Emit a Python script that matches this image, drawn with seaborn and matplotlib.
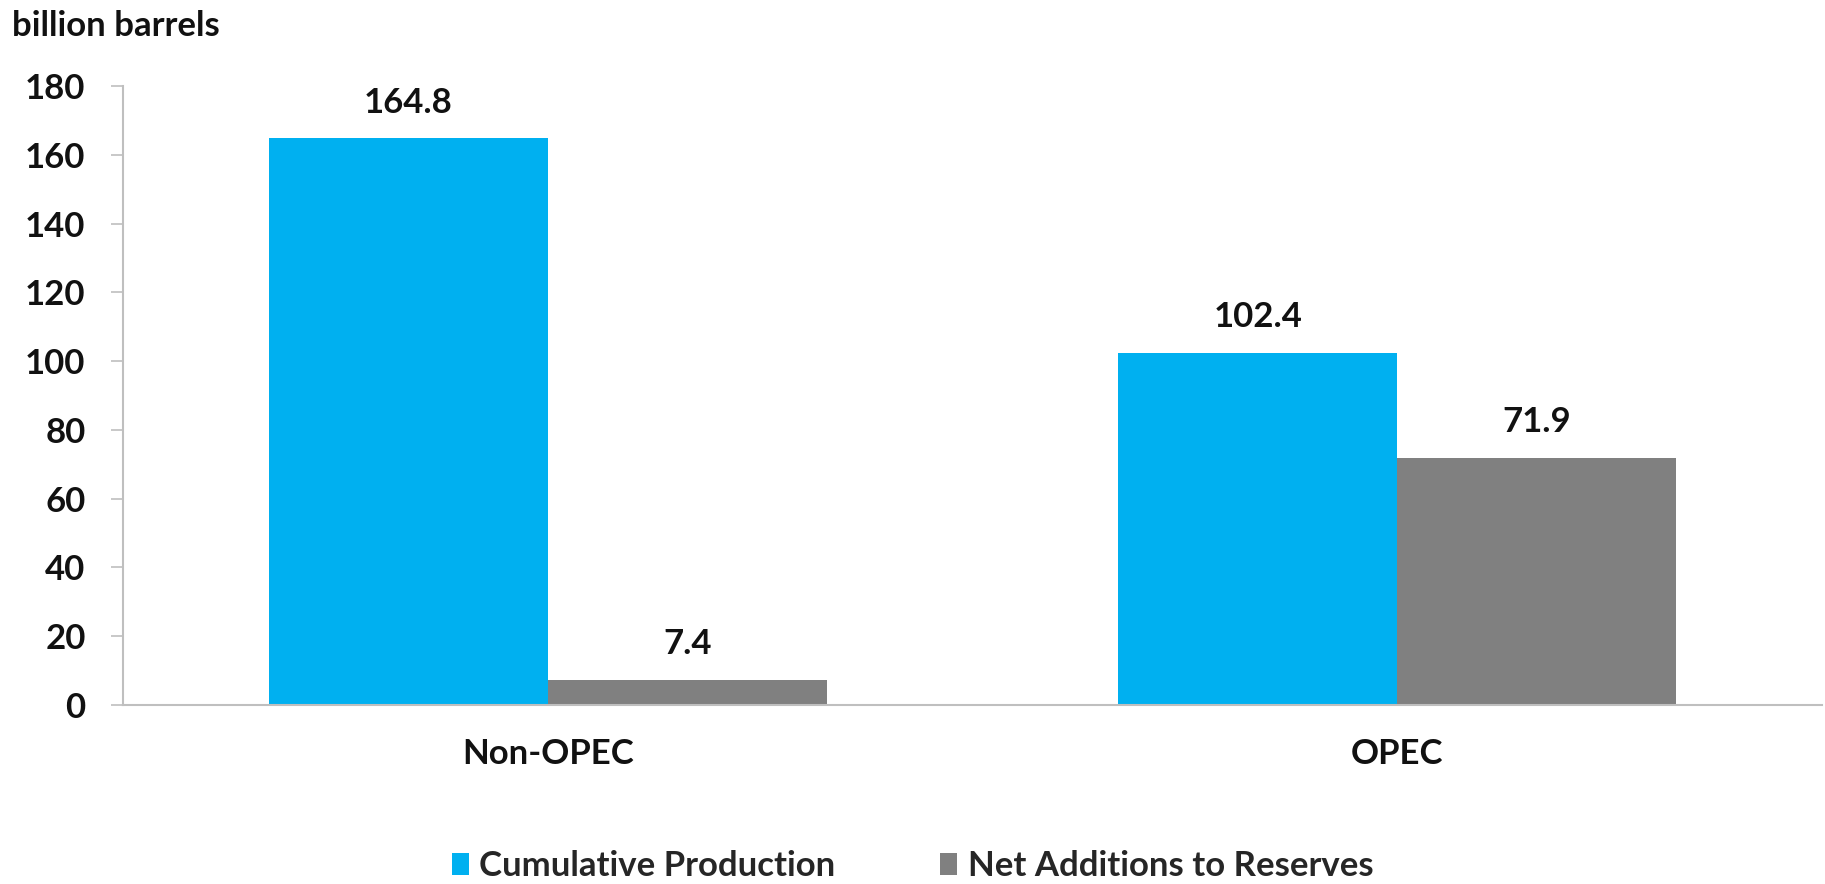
import matplotlib
matplotlib.use("Agg")
import matplotlib.pyplot as plt
import seaborn as sns
import pandas as pd

categories = ["Non-OPEC", "OPEC"]
series_names = ["Cumulative Production", "Net Additions to Reserves"]
cumulative_production = [164.8, 102.4]
net_additions = [7.4, 71.9]
y_ticks = [0, 20, 40, 60, 80, 100, 120, 140, 160, 180]
colors = ["#00B0F0", "#808080"]

FS = 25

sns.set_theme(style="white")
plt.rcParams["font.family"] = ["Lato", "DejaVu Sans"]
plt.rcParams["font.weight"] = "bold"

df = pd.DataFrame({
    "category": categories * 2,
    "series": [series_names[0]] * 2 + [series_names[1]] * 2,
    "value": cumulative_production + net_additions,
})

fig = plt.figure(figsize=(18.25, 8.84), dpi=100)
ax = fig.add_axes([123 / 1825, 1 - 705 / 884, (1822 - 123) / 1825, (705 - 86) / 884])

sns.barplot(data=df, x="category", y="value", hue="series", order=categories,
            hue_order=series_names, palette=colors, width=0.657, saturation=1,
            linewidth=0, edgecolor="none", ax=ax, legend=True)

ax.set_xlim(-0.5, 1.5)
ax.set_ylim(0, 180)
ax.set_yticks(y_ticks)
ax.set_yticklabels([str(t) for t in y_ticks], fontsize=FS, fontweight="bold", color="#111111")
ax.set_xticks([0, 1])
ax.set_xticklabels(categories, fontsize=FS, fontweight="bold", color="#111111")
ax.set_xticks([-0.5, 0.5, 1.5], minor=True)
ax.tick_params(axis="x", which="major", length=0, pad=24)
ax.tick_params(axis="x", which="minor", length=10, color="#BFBFBF", width=1.2, direction="out")
ax.tick_params(axis="y", length=9, color="#BFBFBF", width=1.2, direction="out", left=True, pad=18)
ax.set_xlabel("")
ax.set_ylabel("")
for s in ["top", "right"]:
    ax.spines[s].set_visible(False)
for s in ["left", "bottom"]:
    ax.spines[s].set_color("#BFBFBF")
    ax.spines[s].set_linewidth(1.5)

for cont in ax.containers:
    ax.bar_label(cont, labels=[f"{v:.1f}" for v in cont.datavalues], padding=14,
                 fontsize=FS, fontweight="bold", color="#111111")

handles, labels = ax.get_legend_handles_labels()
ax.legend_.remove()
fig.legend(handles, labels, loc="center", bbox_to_anchor=(0.5, 1 - 866 / 884), ncol=2,
           frameon=False, handlelength=0.5, handleheight=0.6,
           handletextpad=0.3, columnspacing=3.0,
           prop={"weight": "bold", "size": FS})

fig.text(12 / 1825, 1 - 26 / 884, "billion barrels", fontsize=FS, fontweight="bold",
         color="#111111", va="center", ha="left")

fig.savefig("out.png", dpi=100)
